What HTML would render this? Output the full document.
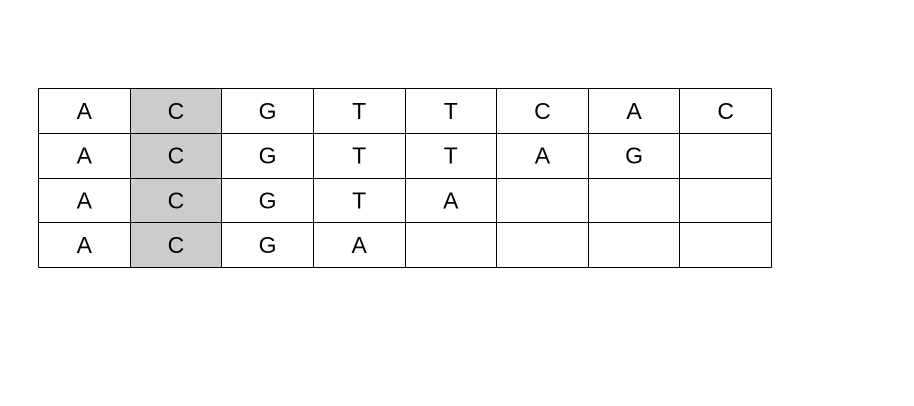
<!DOCTYPE html>
<html><head><meta charset="utf-8"><style>
html,body{margin:0;padding:0;background:#fff;width:914px;height:406px;overflow:hidden}
svg{display:block}
</style></head><body>
<svg id="chart" width="914" height="406" xmlns="http://www.w3.org/2000/svg"></svg>
<script>
const row1 = ["A","C","G","T","T","C","A","C"];
const row2 = ["A","C","G","T","T","A","G",""];
const row3 = ["A","C","G","T","A","","",""];
const row4 = ["A","C","G","A","","","",""];
const rows = [row1,row2,row3,row4];
const highlightCol = 1;

const NS="http://www.w3.org/2000/svg";
const svg=document.getElementById('chart');
const x0=38.5,x1=771.5,y0=88.5,y1=267.5;
const nc=8,nr=rows.length;
const cw=(x1-x0)/nc,rh=(y1-y0)/nr;
const cx=c=>x0+c*cw, ry=r=>y0+r*rh;

const hl=document.createElementNS(NS,'rect');


hl.setAttribute('x',cx(highlightCol));hl.setAttribute('y',y0);
hl.setAttribute('width',cw);hl.setAttribute('height',y1-y0);
hl.setAttribute('fill','#cccccc');
svg.appendChild(hl);

rows.forEach((row,r)=>{
  row.forEach((v,c)=>{
    if(!v) return;
    const t=document.createElementNS(NS,'text');
    
    
    t.setAttribute('x',cx(c)+cw/2);t.setAttribute('y',ry(r)+rh/2+8);
    t.setAttribute('text-anchor','middle');
    t.setAttribute('font-family','"Liberation Sans", sans-serif');
    t.setAttribute('font-size','23');t.setAttribute('fill','#000');
    t.textContent=v;
    svg.appendChild(t);
  });
});

for(let c=0;c<=nc;c++){
  const l=document.createElementNS(NS,'line');
  
  
  l.setAttribute('x1',Math.round(cx(c)-0.5)+0.5);l.setAttribute('x2',Math.round(cx(c)-0.5)+0.5);
  l.setAttribute('y1',y0);l.setAttribute('y2',y1);
  l.setAttribute('stroke','#000');l.setAttribute('stroke-width','1');
  svg.appendChild(l);
}
for(let r=0;r<=nr;r++){
  const l=document.createElementNS(NS,'line');
  
  
  l.setAttribute('x1',x0);l.setAttribute('x2',x1);
  l.setAttribute('y1',Math.round(ry(r)-0.5)+0.5);l.setAttribute('y2',Math.round(ry(r)-0.5)+0.5);
  l.setAttribute('stroke','#000');l.setAttribute('stroke-width','1');
  svg.appendChild(l);
}
</script>
</body></html>
